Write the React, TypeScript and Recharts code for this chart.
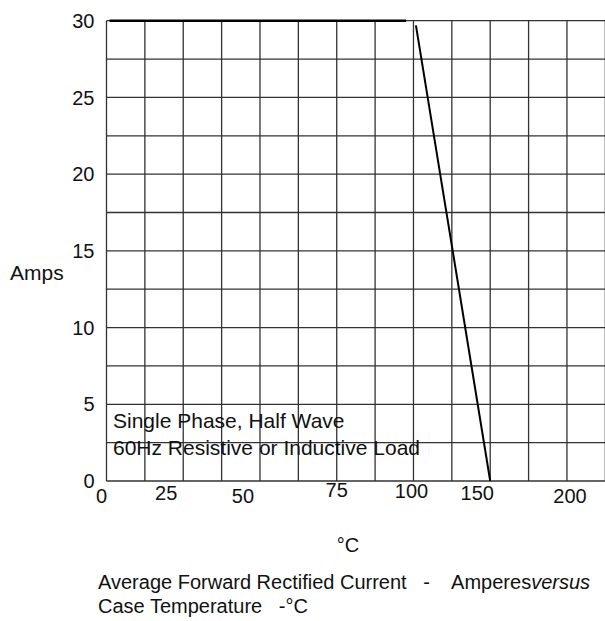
import { LineChart, Line, XAxis, YAxis, CartesianGrid } from 'recharts'

// positions along the x axis (grid units, 12.5 per cell) and the label printed there
const xGridTicks = [0, 12.5, 25, 37.5, 50, 62.5, 75, 87.5, 100, 112.5, 125, 137.5, 150, 162.5]
const xLabelAt = [0, 25, 50, 75, 100, 125, 150]
const xLabels = ['0', '25', '50', '75', '100', '150', '200']
// small hand offsets the original drawing has on each x label
const xLabelDx = [-5, -17, -17, 0, -2, -13, 3]
const xLabelDy = [22, 19, 22, 16, 17, 19, 22]

const yGridTicks = [0, 2.5, 5, 7.5, 10, 12.5, 15, 17.5, 20, 22.5, 25, 27.5, 30]

// derating curve: flat part and falling part
const flatTemp = [1, 97.6]
const flatAmps = [30, 30]
const dropTemp = [100.8, 125]
const dropAmps = [29.7, 0]

const data = [
    ...flatTemp.map((t, i) => ({ t, flat: flatAmps[i] })),
    ...dropTemp.map((t, i) => ({ t, drop: dropAmps[i] })),
]

const FONT = 'Liberation Sans, Arial, sans-serif'

function XTick(props: any) {
    const { x, y, payload } = props
    const idx = xLabelAt.indexOf(payload.value)
    if (idx < 0) return null
    return (
        <text x={x + xLabelDx[idx]} y={y + xLabelDy[idx]} textAnchor="middle" fontSize={20} fontFamily={FONT} fill="#111">
            {xLabels[idx]}
        </text>
    )
}

export default function App() {
    return (
        <div style={{ position: 'fixed', left: 0, top: 0, width: 605, height: 621, overflow: 'hidden', background: '#fff' }}>
            <LineChart width={620} height={621} data={data} margin={{ top: 20.7, right: 7, bottom: 110, left: 0 }}>
                <CartesianGrid stroke="#333" strokeWidth={1.3} fill="none" />
                <XAxis
                    dataKey="t"
                    type="number"
                    domain={[0, 165]}
                    ticks={xGridTicks}
                    interval={0}
                    height={30}
                    axisLine={false}
                    tickLine={false}
                    tickSize={0}
                    tickMargin={0}
                    tick={<XTick />}
                />
                <YAxis
                    type="number"
                    domain={[0, 30]}
                    ticks={yGridTicks}
                    interval={0}
                    width={106.5}
                    axisLine={false}
                    tickLine={false}
                    tickSize={0}
                    tickMargin={12}
                    tickFormatter={(v: number) => (v % 5 === 0 ? String(v) : '')}
                    tick={{ fill: '#111', fontSize: 20, fontFamily: FONT }}
                />
                <Line dataKey="flat" stroke="#000" strokeWidth={2.4} dot={false} isAnimationActive={false} connectNulls={false} />
                <Line dataKey="drop" stroke="#000" strokeWidth={2} dot={false} isAnimationActive={false} connectNulls={false} />
            </LineChart>

            <svg width={605} height={621} style={{ position: 'absolute', left: 0, top: 0, pointerEvents: 'none' }}
                fontFamily={FONT} fontSize={20} fill="#111">
                <text x={10} y={280} fontSize={21}>Amps</text>
                <text x={113} y={428} fontSize={21}>Single Phase, Half Wave</text>
                <text x={113} y={455} fontSize={21}>60Hz Resistive or Inductive Load</text>
                <text x={348} y={552} textAnchor="middle">°C</text>
                <text x={98} y={589} style={{ whiteSpace: 'pre' }}>
                    {'Average Forward Rectified Current   -    Amperes'}
                    <tspan fontStyle="italic">versus</tspan>
                </text>
                <text x={98} y={613} style={{ whiteSpace: 'pre' }}>{'Case Temperature   -°C'}</text>
            </svg>
        </div>
    )
}
